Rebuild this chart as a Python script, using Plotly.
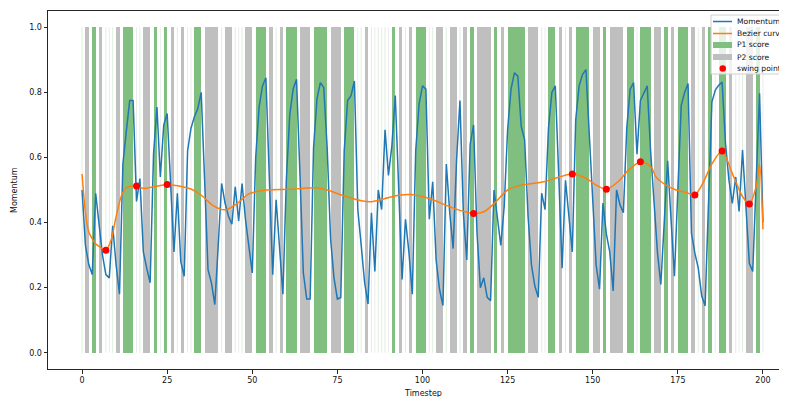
import plotly.graph_objects as go

# ---------------- data ----------------
timesteps = list(range(201))

momentum = [
    0.50, 0.33, 0.27, 0.24, 0.49, 0.40, 0.30, 0.24, 0.23, 0.39,
    0.27, 0.18, 0.58, 0.68, 0.775, 0.775, 0.465, 0.535, 0.31, 0.26,
    0.215, 0.61, 0.755, 0.54, 0.70, 0.735, 0.50, 0.31, 0.49, 0.28,
    0.235, 0.62, 0.69, 0.725, 0.75, 0.80, 0.53, 0.255, 0.215, 0.148,
    0.33, 0.52, 0.46, 0.42, 0.395, 0.51, 0.405, 0.52, 0.41, 0.33,
    0.245, 0.60, 0.755, 0.82, 0.845, 0.54, 0.24, 0.47, 0.31, 0.18,
    0.53, 0.73, 0.81, 0.84, 0.55, 0.245, 0.165, 0.165, 0.63, 0.78,
    0.83, 0.815, 0.63, 0.35, 0.23, 0.165, 0.17, 0.62, 0.775, 0.79,
    0.835, 0.44, 0.33, 0.215, 0.15, 0.43, 0.25, 0.50, 0.44, 0.685,
    0.545, 0.635, 0.79, 0.50, 0.225, 0.41, 0.31, 0.18, 0.62, 0.765,
    0.82, 0.81, 0.41, 0.525, 0.285, 0.195, 0.145, 0.58, 0.43, 0.32,
    0.59, 0.775, 0.43, 0.285, 0.64, 0.70, 0.37, 0.20, 0.23, 0.17,
    0.16, 0.50, 0.41, 0.33, 0.45, 0.685, 0.81, 0.86, 0.85, 0.695,
    0.655, 0.42, 0.27, 0.205, 0.17, 0.49, 0.44, 0.69, 0.80, 0.82,
    0.55, 0.26, 0.53, 0.43, 0.31, 0.715, 0.82, 0.855, 0.87, 0.67,
    0.47, 0.27, 0.195, 0.46, 0.365, 0.31, 0.19, 0.50, 0.455, 0.43,
    0.69, 0.81, 0.83, 0.61, 0.775, 0.80, 0.82, 0.62, 0.45, 0.31,
    0.21, 0.40, 0.59, 0.41, 0.235, 0.50, 0.76, 0.80, 0.827, 0.367,
    0.306, 0.26, 0.175, 0.144, 0.45, 0.77, 0.807, 0.822, 0.832, 0.643,
    0.531, 0.459, 0.54, 0.434, 0.623, 0.45, 0.275, 0.25, 0.52, 0.797,
    0.40,
]

# point winner per timestep (1 = P1, 2 = P2), as runs (winner, first, last)
winner_runs = [
    (1, 0, 0), (2, 1, 2), (1, 3, 4), (2, 5, 6), (1, 7, 7), (2, 8, 8), (1, 9, 9),
    (2, 10, 11), (1, 12, 15), (2, 16, 16), (1, 17, 17), (2, 18, 20), (1, 21, 22),
    (2, 23, 23), (1, 24, 25), (2, 26, 27), (1, 28, 28), (2, 29, 30), (1, 31, 31),
    (2, 32, 32), (1, 33, 35), (2, 36, 40), (1, 41, 41), (2, 42, 44), (1, 45, 45),
    (2, 46, 46), (1, 47, 47), (2, 48, 50), (1, 51, 54), (2, 55, 56), (1, 57, 57),
    (2, 58, 59), (1, 60, 63), (2, 64, 67), (1, 68, 72), (2, 73, 76), (1, 77, 80),
    (2, 81, 81), (1, 82, 82), (2, 83, 84), (1, 85, 85), (2, 86, 86), (1, 87, 87),
    (2, 88, 88), (1, 89, 89), (2, 90, 90), (1, 91, 92), (2, 93, 94), (1, 95, 95),
    (2, 96, 97), (1, 98, 101), (2, 102, 102), (1, 103, 103), (2, 104, 106),
    (1, 107, 107), (2, 108, 110), (1, 111, 111), (2, 112, 113), (1, 114, 115),
    (2, 116, 120), (1, 121, 122), (2, 123, 124), (1, 125, 130), (2, 131, 134),
    (1, 135, 135), (2, 136, 136), (1, 137, 139), (2, 140, 141), (1, 142, 142),
    (2, 143, 144), (1, 145, 149), (2, 150, 152), (1, 153, 154), (2, 155, 159),
    (1, 160, 162), (2, 163, 163), (1, 164, 167), (2, 168, 170), (1, 171, 172),
    (2, 173, 174), (1, 175, 178), (2, 179, 180), (1, 181, 181), (2, 182, 183),
    (1, 184, 185), (2, 186, 186), (1, 187, 189), (2, 190, 191), (1, 192, 192),
    (2, 193, 193), (1, 194, 194), (2, 195, 197), (1, 198, 199), (2, 200, 200),
]

# Bezier curve samples (timestep, value)
bezier_t = [0, 1, 2, 3, 4, 5, 7, 8.5, 10, 11.5, 13, 16, 18, 21, 25, 29.5, 32, 35.5,
            38.5, 42, 45.5, 49, 54, 61, 66, 69, 72, 77, 82, 85, 89, 93, 96.5, 100,
            103, 106.5, 110.5, 115, 118, 121, 125, 129, 134, 136, 140, 144, 148,
            151, 154, 157.5, 160.5, 164, 166, 167.5, 168.5, 171.5, 174.5, 177.5,
            180, 182.3, 185, 188, 191, 194, 196, 198, 199, 200]
bezier_v = [0.549, 0.43, 0.37, 0.35, 0.335, 0.327, 0.315, 0.345, 0.418, 0.48, 0.507,
            0.512, 0.505, 0.51, 0.516, 0.51, 0.503, 0.48, 0.452, 0.439, 0.458, 0.488,
            0.50, 0.502, 0.506, 0.507, 0.50, 0.482, 0.467, 0.464, 0.474, 0.484, 0.486,
            0.48, 0.47, 0.455, 0.439, 0.428, 0.433, 0.458, 0.50, 0.515, 0.522, 0.526,
            0.539, 0.549, 0.536, 0.515, 0.502, 0.526, 0.561, 0.587, 0.58, 0.565,
            0.541, 0.515, 0.50, 0.492, 0.485, 0.52, 0.58, 0.62, 0.551, 0.48, 0.457,
            0.51, 0.58, 0.379]

swing_t = [7, 16, 25, 115, 144, 154, 164, 180, 188, 196]
swing_v = [0.315, 0.512, 0.517, 0.428, 0.549, 0.502, 0.587, 0.485, 0.62, 0.457]

x_ticks = [0, 25, 50, 75, 100, 125, 150, 175, 200]
y_ticks = [0.0, 0.2, 0.4, 0.6, 0.8, 1.0]
y_tick_labels = ["0.0", "0.2", "0.4", "0.6", "0.8", "1.0"]

# ---------------- style ----------------
BLUE = "#1f77b4"
ORANGE = "#ff7f0e"
GREEN_FILL = "#80bf80"
GRAY_FILL = "#bfbfbf"
FONT = "DejaVu Sans"
AX = "#262626"

fig = go.Figure()

# score spans (fill between consecutive points of the same winner)
for who, col, faint in [(1, GREEN_FILL, "rgba(0,128,0,0.13)"),
                        (2, GRAY_FILL, "rgba(128,128,128,0.15)")]:
    runs = [r for r in winner_runs if r[0] == who]
    wide = [r for r in runs if r[2] > r[1]]
    single = [r for r in runs if r[2] == r[1]]
    fig.add_trace(go.Bar(
        x=[(a + b) / 2 for _, a, b in wide],
        y=[1.0] * len(wide),
        base=0,
        width=[b - a for _, a, b in wide],
        marker=dict(color=col, line=dict(width=0)),
        showlegend=False, hoverinfo="skip"))
    xs, ys = [], []
    for _, a, _b in single:
        xs += [a, a, None]
        ys += [0, 1, None]
    fig.add_trace(go.Scatter(x=xs, y=ys, mode="lines",
                             line=dict(color=faint, width=1),
                             showlegend=False, hoverinfo="skip"))

fig.add_trace(go.Scatter(x=timesteps, y=momentum, mode="lines",
                         line=dict(color=BLUE, width=1.5), name="Momentum",
                         showlegend=False))
fig.add_trace(go.Scatter(x=bezier_t, y=bezier_v, mode="lines",
                         line=dict(color=ORANGE, width=1.5, shape="spline", smoothing=0.8),
                         name="Bezier curve", showlegend=False))
fig.add_trace(go.Scatter(x=swing_t, y=swing_v, mode="markers",
                         marker=dict(color="red", size=7, line=dict(width=0)),
                         name="swing point", showlegend=False))

# ---------------- layout ----------------
# page is offset by the 8px body margin; plot area in page pixels: x 48..797, y 11..369
OFF = 8
PL, PT, PR, PB = 48, 11, 797, 369
W = PR - OFF
H = 397
L = PL - OFF
T = PT - OFF
B = H - (PB - OFF)
R = 0


def px(xp):
    return (xp - PL) / (PR - PL)


def py(yp):
    return (PB - yp) / (PB - PT)


shapes = []
annotations = []

# legend (matplotlib style, clipped at right edge)
shapes.append(dict(type="rect", xref="paper", yref="paper",
                   x0=px(711), x1=px(830), y0=py(74), y1=py(15),
                   fillcolor="rgba(255,255,255,0.8)",
                   line=dict(color="#d0d0d0", width=1), layer="above"))
leg_y = [21.5, 33.5, 45, 57, 68.5]
leg_txt = ["Momentum", "Bezier curve", "P1 score", "P2 score", "swing point"]
shapes.append(dict(type="line", xref="paper", yref="paper", x0=px(713), x1=px(732),
                   y0=py(leg_y[0]), y1=py(leg_y[0]), line=dict(color=BLUE, width=1.5)))
shapes.append(dict(type="line", xref="paper", yref="paper", x0=px(713), x1=px(732),
                   y0=py(leg_y[1]), y1=py(leg_y[1]), line=dict(color=ORANGE, width=1.5)))
shapes.append(dict(type="rect", xref="paper", yref="paper", x0=px(713), x1=px(732),
                   y0=py(leg_y[2] + 3), y1=py(leg_y[2] - 3), fillcolor=GREEN_FILL,
                   line=dict(width=0)))
shapes.append(dict(type="rect", xref="paper", yref="paper", x0=px(713), x1=px(732),
                   y0=py(leg_y[3] + 3), y1=py(leg_y[3] - 3), fillcolor=GRAY_FILL,
                   line=dict(width=0)))
shapes.append(dict(type="circle", xref="paper", yref="paper", x0=px(719.5), x1=px(726),
                   y0=py(leg_y[4] + 3.25), y1=py(leg_y[4] - 3.25), fillcolor="red",
                   line=dict(width=0)))
for yy, tx in zip(leg_y, leg_txt):
    annotations.append(dict(text=tx, xref="paper", yref="paper", x=px(734.5), y=py(yy),
                            xanchor="left", yanchor="middle", showarrow=False,
                            font=dict(family=FONT, size=7.6, color="#111")))

# axis labels
annotations.append(dict(text="Timestep", xref="paper", yref="paper", x=px(422.5), y=py(393),
                        xanchor="center", yanchor="middle", showarrow=False,
                        font=dict(family=FONT, size=8, color="#111")))
annotations.append(dict(text="Momentum", xref="paper", yref="paper", x=px(14), y=py(190),
                        xanchor="center", yanchor="middle", showarrow=False, textangle=-90,
                        font=dict(family=FONT, size=8, color="#111")))

fig.update_layout(
    width=W, height=H,
    margin=dict(l=L, r=R, t=T, b=B, pad=0),
    paper_bgcolor="white", plot_bgcolor="white",
    barmode="overlay", bargap=0,
    showlegend=False,
    font=dict(family=FONT, size=8, color="#111"),
    shapes=shapes, annotations=annotations,
    xaxis=dict(range=[-10, 210], tickvals=x_ticks,
               ticks="outside", ticklen=3.5, tickwidth=0.8, tickcolor=AX,
               showline=True, linecolor=AX, linewidth=1, mirror=True,
               showgrid=False, zeroline=False,
               tickfont=dict(family=FONT, size=8, color="#111")),
    yaxis=dict(range=[-0.05, 1.05], tickvals=y_ticks, ticktext=y_tick_labels,
               ticks="outside", ticklen=3.5, tickwidth=0.8, tickcolor=AX,
               showline=True, linecolor=AX, linewidth=1, mirror=False,
               showgrid=False, zeroline=False,
               tickfont=dict(family=FONT, size=8, color="#111")),
)

fig.write_html("out.html")
